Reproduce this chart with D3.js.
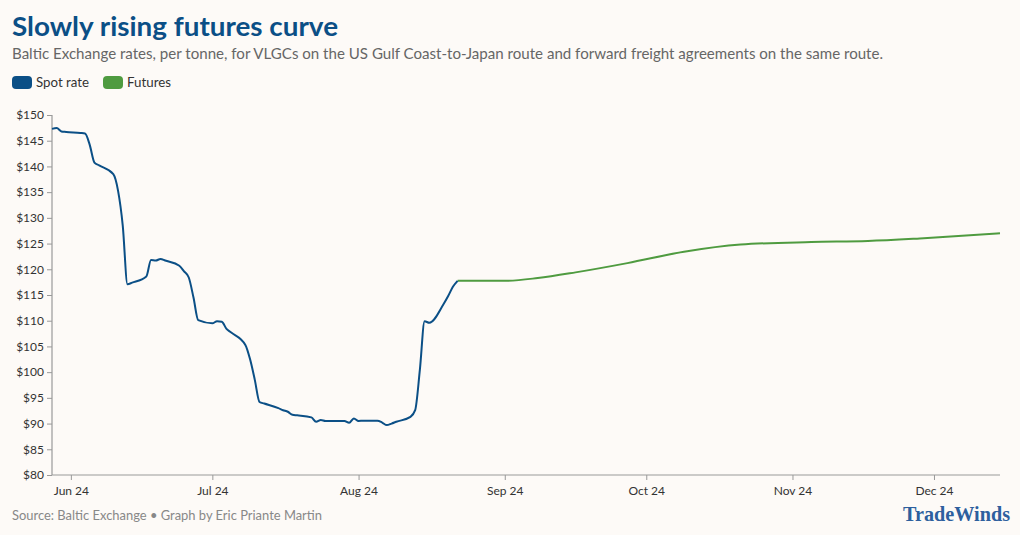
<!DOCTYPE html>
<html>
<head>
<meta charset="utf-8">
<script src="https://cdn.jsdelivr.net/npm/d3@7"></script>
<style>
  html, body { margin: 0; padding: 0; background: #fdfaf7; }
  svg { display: block; }
  text { font-family: "Source Sans Pro", Lato, "Noto Sans", sans-serif; }
</style>
</head>
<body>
<svg id="chart" width="1020" height="535"></svg>
<script>
// ---------- DATA ----------
const title = "Slowly rising futures curve";
const subtitle = "Baltic Exchange rates, per tonne, for VLGCs on the US Gulf Coast-to-Japan route and forward freight agreements on the same route.";
const source = "Source: Baltic Exchange • Graph by Eric Priante Martin";
const seriesNames = ["Spot rate", "Futures"];
const seriesColors = ["#0b4f86", "#4f9b40"];

const spotDates = ["2024-05-28","2024-05-29","2024-05-30","2024-05-31","2024-06-03","2024-06-04","2024-06-05","2024-06-06","2024-06-07","2024-06-10","2024-06-11","2024-06-12","2024-06-13","2024-06-14","2024-06-17","2024-06-18","2024-06-19","2024-06-20","2024-06-21","2024-06-24","2024-06-25","2024-06-26","2024-06-27","2024-06-28","2024-07-01","2024-07-02","2024-07-03","2024-07-04","2024-07-05","2024-07-08","2024-07-09","2024-07-10","2024-07-11","2024-07-12","2024-07-15","2024-07-16","2024-07-17","2024-07-18","2024-07-19","2024-07-22","2024-07-23","2024-07-24","2024-07-25","2024-07-26","2024-07-29","2024-07-30","2024-07-31","2024-08-01","2024-08-02","2024-08-05","2024-08-06","2024-08-07","2024-08-08","2024-08-09","2024-08-12","2024-08-13","2024-08-14","2024-08-15","2024-08-16","2024-08-19","2024-08-20","2024-08-21","2024-08-22"];
const spotValues = [147.3,147.45,146.8,146.7,146.5,146.4,144.2,140.75,140.2,138.5,135.3,128.5,117.1,117.4,118.6,121.8,121.7,122.0,121.7,120.7,119.6,118.4,114.5,110.1,109.5,109.9,109.8,108.4,107.7,105.3,102.5,98.5,94.2,93.9,93.0,92.6,92.3,91.7,91.6,91.2,90.35,90.7,90.5,90.5,90.5,90.15,91.0,90.5,90.55,90.55,90.2,89.7,90.0,90.35,91.3,92.6,100.5,109.9,109.6,113.2,114.8,116.6,117.75];

const futuresDates = ["2024-08-22","2024-09-01","2024-09-08","2024-09-16","2024-09-27","2024-10-09","2024-10-21","2024-11-05","2024-11-17","2024-11-28","2024-12-15"];
const futuresValues = [117.75,117.75,118.3,119.4,121.2,123.4,124.8,125.3,125.5,126.0,127.0];

const xDomain = ["2024-05-28", "2024-12-15"];
const yDomain = [80, 150];
const yTicks = [80,85,90,95,100,105,110,115,120,125,130,135,140,145,150];
const xTicks = ["2024-06-01","2024-07-01","2024-08-01","2024-09-01","2024-10-01","2024-11-01","2024-12-01"];

// ---------- CHART ----------
const parse = d3.timeParse("%Y-%m-%d");
const svg = d3.select("#chart");
const margin = {left: 52, right: 20, top: 115, bottom: 60};
const W = 1020, H = 535;

const x = d3.scaleTime().domain(xDomain.map(parse)).range([margin.left, W - margin.right]);
const y = d3.scaleLinear().domain(yDomain).range([H - margin.bottom, margin.top]);

// Title
svg.append("text").attr("x", 12).attr("y", 36)
  .attr("font-size", 27).attr("font-weight", 700).attr("fill", "#0b4f86")
  .attr("textLength", 326).attr("lengthAdjust", "spacingAndGlyphs")
  .text(title);
svg.append("text").attr("x", 12).attr("y", 59)
  .attr("font-size", 15).attr("fill", "#666")
  .attr("textLength", 871).attr("lengthAdjust", "spacingAndGlyphs")
  .text(subtitle);

// Legend
const legendX = [12, 103];
const legendTextW = [53, 44];
seriesNames.forEach((n, i) => {
  svg.append("rect").attr("x", legendX[i]).attr("y", 76).attr("width", 20).attr("height", 13)
    .attr("rx", 4).attr("fill", seriesColors[i]);
  svg.append("text").attr("x", legendX[i] + 24).attr("y", 87)
    .attr("font-size", 13.5).attr("fill", "#333")
    .attr("textLength", legendTextW[i]).attr("lengthAdjust", "spacingAndGlyphs")
    .text(n);
});

// Axes
const yAxis = svg.append("g").attr("transform", `translate(${margin.left},0)`)
  .call(d3.axisLeft(y).tickValues(yTicks).tickSize(5).tickPadding(3).tickFormat(d => "$" + d));
const xAxis = svg.append("g").attr("transform", `translate(0,${H - margin.bottom})`)
  .call(d3.axisBottom(x).tickValues(xTicks.map(parse)).tickSize(5).tickPadding(6).tickFormat(d3.timeFormat("%b %y")));
[yAxis, xAxis].forEach(g => {
  g.select(".domain").attr("stroke", "#999").attr("stroke-width", 1.2);
  g.selectAll(".tick line").attr("stroke", "#999");
  g.selectAll(".tick text").attr("fill", "#333").attr("font-size", 12)
    .attr("font-family", '"Source Sans Pro", Lato, "Noto Sans", sans-serif');
});
yAxis.select(".domain").attr("d", `M-0,${y(150)}V${y(80)}`);
xAxis.select(".domain").attr("d", `M${margin.left},0H${W - margin.right}`);

// Lines
const line = d3.line().x(d => x(d.date)).y(d => y(d.value)).curve(d3.curveMonotoneX);
const spot = spotDates.map((d, i) => ({date: parse(d), value: spotValues[i]}));
const fut = futuresDates.map((d, i) => ({date: parse(d), value: futuresValues[i]}));

svg.append("path").datum(fut).attr("d", line).attr("fill", "none")
  .attr("stroke", seriesColors[1]).attr("stroke-width", 2);
svg.append("path").datum(spot).attr("d", line).attr("fill", "none")
  .attr("stroke", seriesColors[0]).attr("stroke-width", 2).attr("stroke-linejoin", "round");

// Footer
svg.append("text").attr("x", 12).attr("y", 520)
  .attr("font-size", 13.5).attr("fill", "#888")
  .attr("textLength", 310).attr("lengthAdjust", "spacingAndGlyphs")
  .text(source);
svg.append("text").attr("x", 1010).attr("y", 521).attr("text-anchor", "end")
  .attr("font-size", 21).attr("font-weight", 700).attr("fill", "#2d5f9e")
  .style("font-family", '"Liberation Serif", "DejaVu Serif", serif')
  .attr("textLength", 107).attr("lengthAdjust", "spacingAndGlyphs")
  .text("TradeWinds");
</script>
</body>
</html>
